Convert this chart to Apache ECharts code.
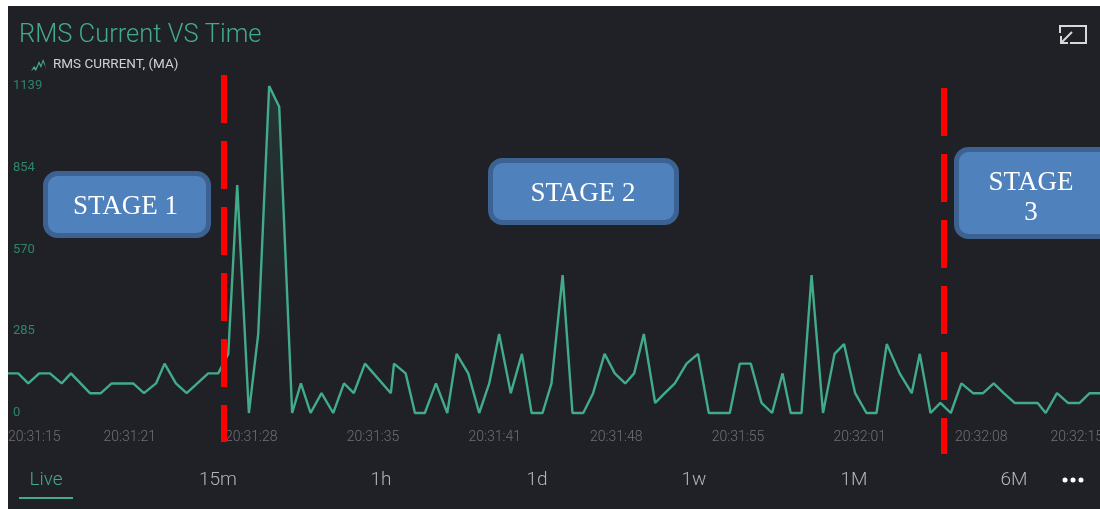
<!DOCTYPE html>
<html>
<head>
<meta charset="utf-8">
<title>RMS Current VS Time</title>
<style>
html, body { margin: 0; padding: 0; background: #fff; }
#main { width: 1100px; height: 509px; }
</style>
<script src="https://cdn.jsdelivr.net/npm/echarts@6/dist/echarts.min.js"></script>
</head>
<body>
<div id="main"></div>
<script>
// seconds after 20:31:15
var times = [
    0, 0.56, 1.11, 1.71, 2.30, 2.94, 3.45, 4.49, 5.09, 5.68, 6.86, 7.45, 8.11, 8.58, 9.20, 9.79,
    10.97, 11.52, 12.07, 12.56, 13.20, 13.71, 14.31, 14.86, 15.57, 16.05, 16.58, 17.18, 17.82, 18.41, 18.95, 19.56,
    20.98, 21.15, 21.79, 22.30, 22.84, 23.45, 24.07, 24.58, 25.22, 25.82, 26.37, 26.91, 27.55, 28.16, 28.69, 29.29, 29.78,
    30.39, 30.93, 31.52, 32.06, 32.69, 33.25, 33.82, 34.31, 34.84, 35.46, 35.99, 36.54, 37.18, 37.81, 38.40, 38.97, 39.55,
    40.10, 40.70, 41.29, 41.87, 42.44, 42.89, 43.48, 44.03, 44.66, 45.29, 45.81, 46.42, 47.04, 47.59, 48.15, 48.86, 49.52, 49.96,
    50.55, 51.09, 51.66, 52.24, 52.88, 53.43, 54.01, 54.56, 55.16, 56.42, 56.86, 57.48, 58.08, 58.72, 59.27, 60
];
// RMS current, mA
var current = [
    138, 138, 103, 138, 138, 103, 138, 69, 69, 103, 103, 69, 103, 172, 103, 69,
    138, 138, 206, 794, 0, 275, 1139, 1067, 0, 103, 0, 69, 0, 103, 69, 172,
    69, 172, 138, 0, 0, 103, 0, 206, 138, 0, 103, 275, 69, 206, 0, 0, 103,
    480, 0, 0, 69, 206, 138, 103, 138, 275, 35, 69, 103, 172, 206, 0, 0, 0,
    172, 172, 35, 0, 138, 0, 0, 480, 0, 206, 240, 69, 0, 0, 240, 138, 69, 206,
    0, 35, 0, 103, 69, 69, 103, 69, 35, 35, 0, 69, 35, 35, 69, 69
];
var xTicks = [0, 6.67, 13.33, 20, 26.67, 33.33, 40, 46.67, 53.33, 60];
var xLabels = ['20:31:15', '20:31:21', '20:31:28', '20:31:35', '20:31:41', '20:31:48', '20:31:55', '20:32:01', '20:32:08', '20:32:15'];
var yTicks = [0, 285, 570, 854, 1139];
var tabs = ['Live', '15m', '1h', '1d', '1w', '1M', '6M'];
var tabCenters = [46, 218, 381, 537, 694, 854, 1014];

var green = '#42ab8a';
var uiFont = 'Roboto';

var points = times.map(function (t, i) {
    return [t, current[i]];
});

// red dashed stage separators
function stageLine(x, y1, y2) {
    return {
        type: 'line',
        z: 20,
        shape: { x1: x, y1: y1, x2: x, y2: y2 },
        style: { stroke: '#ff0000', lineWidth: 6, lineDash: [48, 18] }
    };
}

// blue stage boxes
function stageBox(x, y, w, h, label, textX, textY) {
    return {
        type: 'group',
        z: 21,
        children: [
            {
                type: 'rect',
                shape: { x: x, y: y, width: w, height: h, r: 12 },
                style: { fill: '#4f81bd', stroke: '#3d6291', lineWidth: 5 }
            },
            {
                type: 'text',
                x: textX,
                y: textY,
                style: {
                    text: label,
                    fill: '#ffffff',
                    font: '27px "Liberation Serif"',
                    align: 'center',
                    verticalAlign: 'middle',
                    lineHeight: 30
                }
            }
        ]
    };
}

function iconLine(points) {
    return {
        type: 'polyline',
        z: 5,
        shape: { points: points },
        style: { stroke: '#d8d8d8', lineWidth: 2, fill: null }
    };
}

var graphics = [
    // dark panel
    {
        type: 'rect',
        z: -10,
        silent: true,
        shape: { x: 8, y: 6, width: 1092, height: 503 },
        style: { fill: '#202126' }
    },
    stageLine(224, 75, 442),
    stageLine(944, 88, 454),
    stageBox(45.5, 173.5, 163, 62, 'STAGE 1', 125.5, 207),
    stageBox(490.5, 160.5, 186, 62, 'STAGE 2', 583, 194),
    stageBox(956.5, 149.5, 160, 87, 'STAGE\n3', 1031, 198),
    // expand icon
    iconLine([[1060, 33], [1060, 26], [1086, 26], [1086, 43], [1070, 43]]),
    iconLine([[1072, 32], [1061, 43]]),
    iconLine([[1061, 36], [1061, 43], [1068, 43]]),
    // live tab underline
    {
        type: 'rect',
        shape: { x: 19, y: 497, width: 54, height: 2 },
        style: { fill: green }
    }
];

tabs.forEach(function (name, i) {
    graphics.push({
        type: 'text',
        x: tabCenters[i],
        y: 480,
        style: {
            text: name,
            fill: i === 0 ? green : '#b4b4b6',
            font: '300 19px ' + uiFont,
            align: 'center',
            verticalAlign: 'middle'
        }
    });
});

[1065, 1073, 1081].forEach(function (x) {
    graphics.push({
        type: 'circle',
        shape: { cx: x, cy: 480, r: 2.5 },
        style: { fill: '#ffffff' }
    });
});

var myChart = echarts.init(document.getElementById('main'));

var option = {
    animation: false,
    backgroundColor: '#ffffff',
    title: {
        text: 'RMS Current VS Time',
        left: 19,
        top: 23,
        padding: 0,
        textStyle: {
            color: green,
            fontFamily: uiFont,
            fontWeight: 300,
            fontSize: 25.5
        }
    },
    legend: {
        left: 31,
        top: 58,
        padding: 0,
        itemWidth: 15,
        itemHeight: 13,
        itemGap: 0,
        icon: 'path://M0 14 L3 9 L5 11 L8 4 L10 8 L12 2 L14 7 L15 14 L14 9 L12 5 L10 11 L8 7 L5 14 L3 12 Z',
        data: ['RMS CURRENT, (MA)'],
        itemStyle: { color: green, borderWidth: 0 },
        lineStyle: { width: 0 },
        textStyle: {
            color: '#d0d0d0',
            fontFamily: uiFont,
            fontSize: 13.5,
            padding: [0, 0, 0, 2]
        }
    },
    grid: {
        left: 8,
        width: 1095,
        top: 86,
        height: 327,
        outerBoundsMode: 'none'
    },
    xAxis: {
        type: 'value',
        min: 0,
        max: 60,
        axisLine: { show: false },
        axisTick: { show: false },
        splitLine: { show: false },
        axisLabel: {
            customValues: xTicks,
            alignMinLabel: 'left',
            alignMaxLabel: 'right',
            hideOverlap: false,
            color: '#707074',
            fontFamily: uiFont,
            fontWeight: 300,
            fontSize: 14,
            margin: 17,
            formatter: function (value) {
                return xLabels[xTicks.indexOf(value)];
            }
        }
    },
    yAxis: {
        type: 'value',
        min: 0,
        max: 1139,
        axisLine: { show: false },
        axisTick: { show: false },
        splitLine: { show: false },
        axisLabel: {
            customValues: yTicks,
            inside: true,
            margin: 5,
            color: '#2f8469',
            fontFamily: uiFont,
            fontSize: 13,
            formatter: function (value) {
                return String(value);
            }
        }
    },
    series: [{
        name: 'RMS CURRENT, (MA)',
        type: 'line',
        data: points,
        showSymbol: false,
        clip: false,
        lineStyle: { color: green, width: 2.4 },
        itemStyle: { color: green },
        areaStyle: {
            color: new echarts.graphic.LinearGradient(0, 0, 0, 1, [
                { offset: 0, color: 'rgba(63,165,133,0.22)' },
                { offset: 0.8, color: 'rgba(63,165,133,0)' }
            ])
        }
    }],
    graphic: graphics
};

myChart.setOption(option);
</script>
</body>
</html>
